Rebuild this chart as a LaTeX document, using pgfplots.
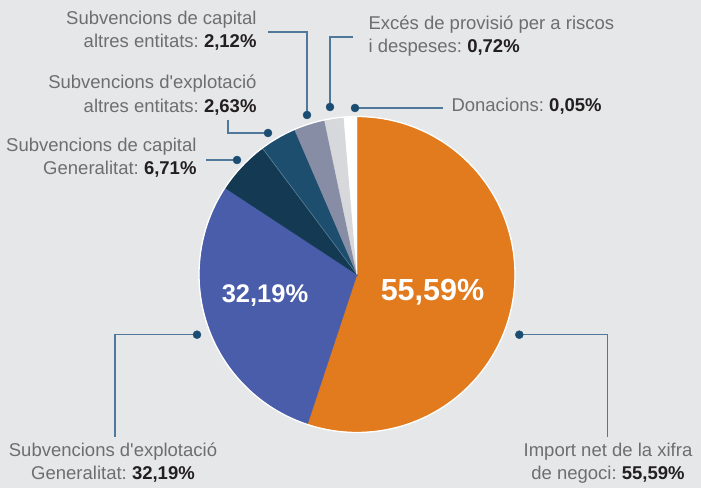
\documentclass[border=0pt]{standalone}
\usepackage{pgfplots}
\pgfplotsset{compat=1.18}
\usepackage{fontspec}
\setmainfont{Liberation Sans}[Ligatures=TeXOff]
\frenchspacing
\definecolor{bgc}{HTML}{E6E7E8}
\definecolor{cOrange}{HTML}{E27A1E}
\definecolor{cBlue}{HTML}{4A5DAB}
\definecolor{cNavy}{HTML}{133953}
\definecolor{cDark}{HTML}{1D4E6E}
\definecolor{cGrayBlue}{HTML}{888DA6}
\definecolor{cLight}{HTML}{D7D8DB}
\definecolor{txt}{HTML}{6D6E70}
\definecolor{val}{HTML}{231F20}
\definecolor{lead}{HTML}{50789A}
\definecolor{dotc}{HTML}{1B4D72}
\newcommand{\lbl}{\fontsize{18.5bp}{22bp}\selectfont}
\begin{document}
\begin{tikzpicture}
\begin{axis}[x=1bp, y=1bp, xmin=0, xmax=701, ymin=0, ymax=488,
  hide axis, clip=false]
\fill[bgc] (rel axis cs:0,0) rectangle (rel axis cs:1,1);
% pie sectors (angles in degrees, clockwise from top)
\addplot[draw=cOrange, fill=cOrange, domain=-108.3:90, samples=120] ({357+157.5*cos(x)},{213.5+157.5*sin(x)}) -- (axis cs:357,213.5) -- cycle;
\addplot[draw=cBlue, fill=cBlue, domain=146.7:251.7, samples=80] ({357+157.5*cos(x)},{213.5+157.5*sin(x)}) -- (axis cs:357,213.5) -- cycle;
\addplot[draw=cNavy, fill=cNavy, domain=127:146.7, samples=20] ({357+157.5*cos(x)},{213.5+157.5*sin(x)}) -- (axis cs:357,213.5) -- cycle;
\addplot[draw=cDark, fill=cDark, domain=113.3:127, samples=20] ({357+157.5*cos(x)},{213.5+157.5*sin(x)}) -- (axis cs:357,213.5) -- cycle;
\addplot[draw=cGrayBlue, fill=cGrayBlue, domain=101.9:113.3, samples=20] ({357+157.5*cos(x)},{213.5+157.5*sin(x)}) -- (axis cs:357,213.5) -- cycle;
\addplot[draw=cLight, fill=cLight, domain=94.8:101.9, samples=20] ({357+157.5*cos(x)},{213.5+157.5*sin(x)}) -- (axis cs:357,213.5) -- cycle;
\addplot[draw=white, fill=white, domain=90:94.8, samples=20] ({357+157.5*cos(x)},{213.5+157.5*sin(x)}) -- (axis cs:357,213.5) -- cycle;
% thin separators
\addplot[white, line width=0.4bp, opacity=0.35] coordinates {(357,213.5) (262.7,339.6)};
\addplot[white, line width=1.3bp, domain=0:360, samples=240] ({357+158*cos(x)},{213.5+158*sin(x)});
% leader lines
\addplot[lead, line width=1.3bp] coordinates {(268,456) (307,456) (307,373)};
\addplot[lead, line width=1.3bp] coordinates {(228,368) (228,355) (268,355)};
\addplot[lead, line width=1.3bp] coordinates {(206,328) (237,328)};
\addplot[lead, line width=1.3bp] coordinates {(353,451) (330,451) (330,381)};
\addplot[lead, line width=1.3bp] coordinates {(355,380) (443,380)};
\addplot[lead, line width=1.3bp] coordinates {(197,153.3) (115,153.3) (115,51)};
\addplot[lead, line width=1.3bp] coordinates {(519.3,153.3) (607.7,153.3) (607.7,51)};
\addplot[only marks, mark=*, mark size=4bp, mark options={draw=dotc, fill=dotc}] coordinates {
 (307,373) (268,355) (237,328) (330,381) (355,380) (197,153.3) (519.3,153.3)};
% inner labels
\node[anchor=base, white, font=\bfseries\fontsize{25.5bp}{26bp}\selectfont] at (axis cs:265,185) {32,19\%};
\node[anchor=base, white, font=\bfseries\fontsize{30.5bp}{31bp}\selectfont] at (axis cs:432.5,187) {55,59\%};
% outer labels
\node[anchor=base east, text=txt, font=\lbl] at (axis cs:260,463) {Subvencions de capital};
\node[anchor=base east, text=txt, font=\lbl] at (axis cs:260,440) {altres entitats: \textcolor{val}{\bfseries 2,12\%}};
\node[anchor=base east, text=txt, font=\lbl] at (axis cs:260,399) {Subvencions d'explotació};
\node[anchor=base east, text=txt, font=\lbl] at (axis cs:260,375) {altres entitats: \textcolor{val}{\bfseries 2,63\%}};
\node[anchor=base east, text=txt, font=\lbl] at (axis cs:200,336) {Subvencions de capital};
\node[anchor=base east, text=txt, font=\lbl] at (axis cs:200,313) {Generalitat: \textcolor{val}{\bfseries 6,71\%}};
\node[anchor=base west, text=txt, font=\lbl] at (axis cs:365,458) {Excés de provisió per a riscos};
\node[anchor=base west, text=txt, font=\lbl] at (axis cs:365,435) {i despeses: \textcolor{val}{\bfseries 0,72\%}};
\node[anchor=base west, text=txt, font=\lbl] at (axis cs:448,376) {Donacions: \textcolor{val}{\bfseries 0,05\%}};
\node[anchor=base, text=txt, font=\lbl] at (axis cs:113,31.3) {Subvencions d'explotació};
\node[anchor=base, text=txt, font=\lbl] at (axis cs:113,8) {Generalitat: \textcolor{val}{\bfseries 32,19\%}};
\node[anchor=base, text=txt, font=\lbl] at (axis cs:608,31.3) {Import net de la xifra};
\node[anchor=base, text=txt, font=\lbl] at (axis cs:608,8) {de negoci: \textcolor{val}{\bfseries 55,59\%}};
\end{axis}
\end{tikzpicture}
\end{document}
